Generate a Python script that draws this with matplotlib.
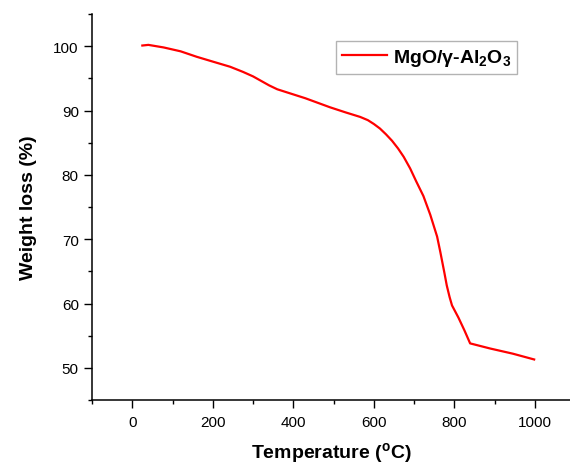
import matplotlib
matplotlib.use("Agg")
import matplotlib.pyplot as plt
from matplotlib.ticker import MultipleLocator

plt.rcParams['font.family'] = ['Liberation Sans', 'DejaVu Sans']
plt.rcParams['mathtext.fontset'] = 'custom'
plt.rcParams['mathtext.rm'] = 'Liberation Sans:bold'
plt.rcParams['mathtext.it'] = 'Liberation Sans:bold'
plt.rcParams['mathtext.bf'] = 'Liberation Sans:bold'

temperature = [25, 40, 78, 120, 160, 200, 243, 275, 300, 320, 340, 360, 380, 400,
               430, 491, 530, 566, 585, 600, 615, 630, 645, 660, 674, 690, 705,
               723, 740, 757, 765, 775, 781, 788, 794, 810, 825, 839, 889, 945, 998]
weight = [100.1, 100.2, 99.8, 99.2, 98.35, 97.6, 96.8, 96.0, 95.3, 94.6, 93.9,
          93.3, 92.9, 92.5, 91.9, 90.5, 89.7, 89.0, 88.5, 87.9, 87.2, 86.3, 85.3,
          84.1, 82.8, 81.0, 79.0, 76.7, 73.8, 70.4, 68.0, 64.8, 62.8, 61.0, 59.7,
          57.8, 55.8, 53.8, 53.0, 52.2, 51.3]
series_label = r'MgO/γ-Al$_{2}$O$_{3}$'
x_ticks = [0, 200, 400, 600, 800, 1000]
y_ticks = [50, 60, 70, 80, 90, 100]

fig = plt.figure(figsize=(5.7, 4.64), dpi=100)
ax = fig.add_axes([92/570, 63/464, 478/570, 386/464])
ax.plot(temperature, weight, color='#ff0000', lw=1.6, label=series_label)

ax.set_xlim(-100, 1087)
ax.set_ylim(45, 105)
ax.set_xticks(x_ticks)
ax.set_yticks(y_ticks)
ax.xaxis.set_minor_locator(MultipleLocator(100))
ax.yaxis.set_minor_locator(MultipleLocator(5))
ax.tick_params(which='major', direction='out', length=5.5, width=1, labelsize=11, pad=4)
ax.tick_params(which='minor', direction='out', length=3, width=1)
ax.tick_params(axis='x', which='major', pad=5)
for s in ['top', 'right']:
    ax.spines[s].set_visible(False)
for s in ['left', 'bottom']:
    ax.spines[s].set_linewidth(1.1)

ax.set_xlabel(r'Temperature ($^{o}$C)', fontsize=14, fontweight='bold', labelpad=8)
ax.set_ylabel('Weight loss (%)', fontsize=14, fontweight='bold', labelpad=12)

leg = ax.legend(loc='upper right', bbox_to_anchor=(0.889, 0.929), borderaxespad=0,
                fancybox=False, edgecolor='#a0a0a0', handlelength=2.3,
                prop={'weight': 'bold', 'size': 14}, borderpad=0.3, handletextpad=0.3)
leg.get_frame().set_linewidth(1.0)

fig.savefig('out.png', dpi=100)
